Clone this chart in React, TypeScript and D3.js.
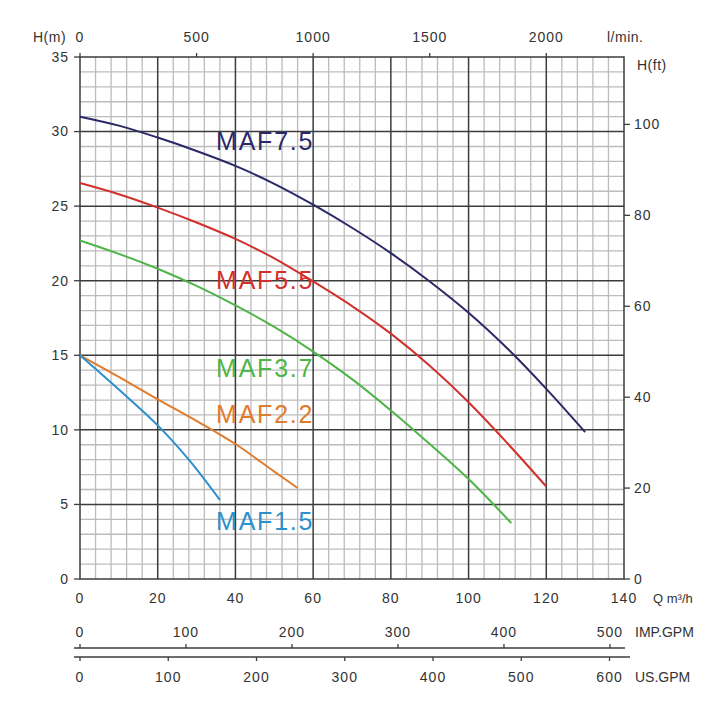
import React from "react";
import * as d3 from "d3";

// ---- data ----
const q75 = [0, 10, 20, 30, 40, 50, 60, 70, 80, 90, 100, 110, 120, 130];
const h75 = [31, 30.4, 29.6, 28.7, 27.7, 26.5, 25.1, 23.55, 21.85, 19.95, 17.85, 15.45, 12.75, 9.85];
const q55 = [0, 10, 20, 30, 40, 50, 60, 70, 80, 90, 100, 110, 120];
const h55 = [26.55, 25.8, 24.9, 23.9, 22.8, 21.5, 19.95, 18.3, 16.45, 14.3, 11.85, 9.1, 6.2];
const q37 = [0, 10, 20, 30, 40, 50, 60, 70, 80, 90, 100, 111];
const h37 = [22.7, 21.8, 20.8, 19.65, 18.35, 16.9, 15.25, 13.4, 11.3, 9.05, 6.7, 3.75];
const q22 = [0, 10, 20, 30, 40, 50, 56];
const h22 = [15, 13.55, 12.05, 10.6, 9.05, 7.2, 6.1];
const q15 = [0, 10, 20, 28, 36];
const h15 = [15, 12.7, 10.3, 8.0, 5.3];

const seriesNames = ["MAF7.5", "MAF5.5", "MAF3.7", "MAF2.2", "MAF1.5"];
const seriesColors = ["#2b2868", "#d1302c", "#4fb548", "#e07c2c", "#2b90cc"];
const labelBaselines = [150, 289, 377, 423, 530];

const qTicks = [0, 20, 40, 60, 80, 100, 120, 140];
const hTicks = [0, 5, 10, 15, 20, 25, 30, 35];
const ftTicks = [0, 20, 40, 60, 80, 100];
const lminTicks = [0, 500, 1000, 1500, 2000];
const impTicks = [0, 100, 200, 300, 400, 500];
const usTicks = [0, 100, 200, 300, 400, 500, 600];

export default function App() {
  const L = 80, R = 624, T = 57, B = 579;
  const x = d3.scaleLinear().domain([0, 140]).range([L, R]);
  const y = d3.scaleLinear().domain([0, 35]).range([B, T]);
  const yFt = d3.scaleLinear().domain([0, 35 * 3.28084]).range([B, T]);
  const xLmin = d3.scaleLinear().domain([0, (140 * 1000) / 60]).range([L, R]);
  const xImp = d3.scaleLinear().domain([0, 140 * 3.66614]).range([L, R]);
  const xUs = d3.scaleLinear().domain([0, 140 * 4.40287]).range([L, R]);

  const series = [
    { q: q75, h: h75 },
    { q: q55, h: h55 },
    { q: q37, h: h37 },
    { q: q22, h: h22 },
    { q: q15, h: h15 },
  ];
  const line = d3
    .line<[number, number]>()
    .x((d) => x(d[0]))
    .y((d) => y(d[1]))
    .curve(d3.curveCatmullRom.alpha(0.5));

  const minorV = d3.range(0, 141, 4).filter((v) => v % 20 !== 0);
  const majorV = d3.range(20, 140, 20);
  const minorH = d3.range(0, 36, 1).filter((v) => v % 5 !== 0);
  const majorH = d3.range(5, 35, 5);

  const font = "'Liberation Sans', Arial, Helvetica, sans-serif";
  const tc = "#333";
  const fs = 14;
  const ls = 1;

  return (
    <svg
      width={720}
      height={720}
      style={{ position: "absolute", left: 0, top: 0, background: "#fff" }}
      fontFamily={font}
    >
      {/* minor grid */}
      <g stroke="#bcbcbc" strokeWidth={1.3}>
        {minorV.map((v) => (
          <line key={"mv" + v} x1={x(v)} x2={x(v)} y1={T} y2={B} />
        ))}
        {minorH.map((v) => (
          <line key={"mh" + v} x1={L} x2={R} y1={y(v)} y2={y(v)} />
        ))}
      </g>
      {/* major grid */}
      <g stroke="#3c3c3c" strokeWidth={1.5}>
        {majorV.map((v) => (
          <line key={"Mv" + v} x1={x(v)} x2={x(v)} y1={T} y2={B} />
        ))}
        {majorH.map((v) => (
          <line key={"Mh" + v} x1={L} x2={R} y1={y(v)} y2={y(v)} />
        ))}
      </g>
      {/* frame */}
      <rect x={L} y={T} width={R - L} height={B - T} fill="none" stroke="#3c3c3c" strokeWidth={1.5} />

      {/* curves */}
      {series.map((s, i) => (
        <path
          key={seriesNames[i]}
          d={line(s.q.map((q, j) => [q, s.h[j]] as [number, number])) || ""}
          fill="none"
          stroke={seriesColors[i]}
          strokeWidth={2}
        />
      ))}
      {seriesNames.map((n, i) => (
        <text
          key={"lab" + n}
          x={216}
          y={labelBaselines[i]}
          fill={seriesColors[i]}
          fontSize={25}
          letterSpacing={1.8}
        >
          {n}
        </text>
      ))}

      {/* left axis */}
      {hTicks.map((t) => (
        <g key={"ht" + t}>
          <line x1={L - 6} x2={L} y1={y(t)} y2={y(t)} stroke="#3c3c3c" strokeWidth={1.3} />
          <text x={L - 11} y={y(t)} dy="0.35em" textAnchor="end" fontSize={fs} letterSpacing={ls} fill={tc}>
            {t}
          </text>
        </g>
      ))}
      <text x={33} y={37} dy="0.35em" fontSize={fs} fill={tc} letterSpacing={0.5}>
        H(m)
      </text>

      {/* right axis (ft) */}
      {ftTicks.map((t) => (
        <g key={"ft" + t}>
          <line x1={R} x2={R + 6} y1={yFt(t)} y2={yFt(t)} stroke="#3c3c3c" strokeWidth={1.3} />
          <text x={R + 10} y={yFt(t)} dy="0.35em" fontSize={fs} letterSpacing={ls} fill={tc}>
            {t}
          </text>
        </g>
      ))}
      <text x={637} y={65} dy="0.35em" fontSize={fs} fill={tc} letterSpacing={0.5}>
        H(ft)
      </text>

      {/* top axis (l/min) */}
      {lminTicks.map((t) => (
        <g key={"lm" + t}>
          <line x1={xLmin(t)} x2={xLmin(t)} y1={T - 4} y2={T} stroke="#3c3c3c" strokeWidth={1.3} />
          <text x={xLmin(t)} y={37} dy="0.35em" textAnchor="middle" fontSize={fs} letterSpacing={ls} fill={tc}>
            {t}
          </text>
        </g>
      ))}
      <text x={607} y={37} dy="0.35em" fontSize={fs} fill={tc} letterSpacing={0.5}>
        l/min.
      </text>

      {/* bottom axis (m3/h) */}
      {qTicks.map((t) => (
        <text key={"q" + t} x={x(t)} y={598} dy="0.35em" textAnchor="middle" fontSize={fs} letterSpacing={ls} fill={tc}>
          {t}
        </text>
      ))}
      <text x={653} y={598} dy="0.35em" fontSize={fs - 1} fill={tc}>
        Q m³/h
      </text>

      {/* IMP.GPM */}
      <line x1={74} x2={625} y1={648} y2={648} stroke="#3c3c3c" strokeWidth={1.5} />
      {impTicks.map((t) => (
        <g key={"imp" + t}>
          <line x1={xImp(t)} x2={xImp(t)} y1={644} y2={648} stroke="#3c3c3c" strokeWidth={1.3} />
          <text x={xImp(t)} y={632} dy="0.35em" textAnchor="middle" fontSize={fs} letterSpacing={ls} fill={tc}>
            {t}
          </text>
        </g>
      ))}
      <text x={635} y={632} dy="0.35em" fontSize={fs} fill={tc}>
        IMP.GPM
      </text>

      {/* US.GPM */}
      <line x1={74} x2={630} y1={657} y2={657} stroke="#3c3c3c" strokeWidth={1.5} />
      {usTicks.map((t) => (
        <g key={"us" + t}>
          <line x1={xUs(t)} x2={xUs(t)} y1={657} y2={661} stroke="#3c3c3c" strokeWidth={1.3} />
          <text x={xUs(t)} y={677} dy="0.35em" textAnchor="middle" fontSize={fs} letterSpacing={ls} fill={tc}>
            {t}
          </text>
        </g>
      ))}
      <text x={635} y={677} dy="0.35em" fontSize={fs} fill={tc}>
        US.GPM
      </text>
    </svg>
  );
}
